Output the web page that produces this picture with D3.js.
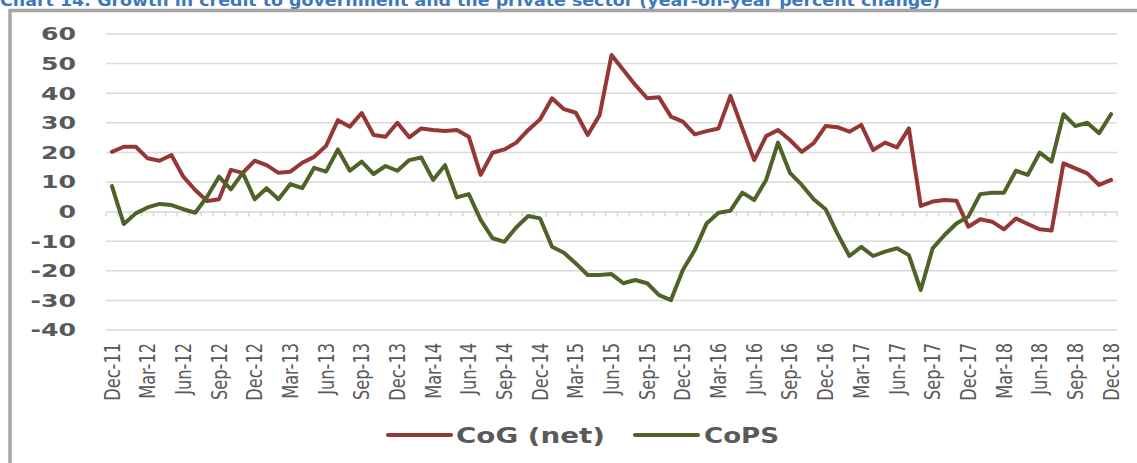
<!DOCTYPE html>
<html>
<head>
<meta charset="utf-8">
<script src="https://cdn.jsdelivr.net/npm/d3@7"></script>
<style>
  body { margin: 0; background: #fff; }
  svg { display: block; }
</style>
</head>
<body>
<svg width="1137" height="463"></svg>
<script>
// monthly, Dec-11 .. Dec-18
const months = d3.timeMonth.range(new Date(2011, 11, 1), new Date(2019, 0, 1));
const categories = months.map(d3.timeFormat("%b-%y"));

const tickLabels = [
  "Dec-11", "Mar-12", "Jun-12", "Sep-12", "Dec-12", "Mar-13", "Jun-13", "Sep-13",
  "Dec-13", "Mar-14", "Jun-14", "Sep-14", "Dec-14", "Mar-15", "Jun-15", "Sep-15",
  "Dec-15", "Mar-16", "Jun-16", "Sep-16", "Dec-16", "Mar-17", "Jun-17", "Sep-17",
  "Dec-17", "Mar-18", "Jun-18", "Sep-18", "Dec-18"
];

const yTicks = [60, 50, 40, 30, 20, 10, 0, -10, -20, -30, -40];

const cog = [
  20.2, 21.9, 21.9, 18.0, 17.2, 19.1, 11.8, 7.3, 3.6, 4.2,
  14.1, 13.1, 17.2, 15.7, 13.1, 13.5, 16.5, 18.5, 22.2, 30.9,
  28.7, 33.3, 25.9, 25.3, 30.0, 25.1, 28.1, 27.6, 27.2, 27.6,
  25.3, 12.4, 19.9, 21.0, 23.3, 27.6, 31.2, 38.3, 34.6, 33.4,
  25.9, 32.6, 52.9, 47.8, 42.8, 38.3, 38.6, 32.1, 30.4, 26.1,
  27.2, 28.1, 39.1, 28.1, 17.4, 25.5, 27.6, 24.2, 20.2, 23.1,
  28.9, 28.5, 27.0, 29.3, 20.8, 23.3, 21.7, 28.1, 1.9, 3.4,
  3.9, 3.7, -5.1, -2.6, -3.4, -6.0, -2.3, -4.2, -6.0, -6.4,
  16.3, 14.6, 12.9, 9.0, 10.7
];

const cops = [
  8.6, -4.2, -0.6, 1.4, 2.6, 2.2, 0.8, -0.4, 5.0, 11.8,
  7.5, 13.1, 4.2, 7.9, 4.2, 9.3, 7.9, 14.8, 13.5, 21.0,
  13.8, 16.9, 12.7, 15.4, 13.8, 17.4, 18.3, 10.7, 15.7, 4.8,
  5.9, -2.8, -9.0, -10.2, -5.3, -1.5, -2.3, -11.9, -13.9, -17.5,
  -21.4, -21.4, -21.1, -24.2, -23.1, -24.2, -28.2, -29.9, -19.7, -13.0,
  -4.0, -0.4, 0.3, 6.4, 3.9, 10.7, 23.3, 13.1, 9.0, 4.2,
  0.8, -7.5, -15.0, -11.9, -15.0, -13.5, -12.4, -14.7, -26.5, -12.4,
  -7.9, -4.0, -1.7, 5.9, 6.4, 6.4, 13.8, 12.4, 19.9, 16.9,
  32.9, 28.9, 30.0, 26.5, 32.9
];

const seriesNames = ["CoG (net)", "CoPS"];
const colors = { "CoG (net)": "#953735", "CoPS": "#4f6228" };

const svg = d3.select("svg");
const grey = "#595959";

let x = d3.scaleBand().domain(categories).range([106, 1117]).padding(0);
let y = d3.scaleLinear().domain([-40, 60]).range([330, 34]);
const cx = (d) => x(d) + x.bandwidth() / 2;

// title (cut off at top in the source)
svg.append("text")
  .attr("x", 0).attr("y", 6)
  .attr("textLength", 940).attr("lengthAdjust", "spacingAndGlyphs")
  .style("font-family", "'Liberation Sans Narrow', 'DejaVu Sans Condensed', sans-serif")
  .style("font-weight", "bold").style("font-size", "16px")
  .style("fill", "#3d78bd")
  .text("Chart 14: Growth in credit to government and the private sector (year-on-year percent change)");

// frame
svg.append("path")
  .attr("d", "M10,463 V10.5 H1137")
  .attr("fill", "none").attr("stroke", "#a5a5a5").attr("stroke-width", 3.5);

// gridlines
svg.append("g").selectAll("line").data(yTicks.filter((d) => d !== 0)).join("line")
  .attr("x1", 106).attr("x2", 1117)
  .attr("y1", (d) => y(d)).attr("y2", (d) => y(d))
  .attr("stroke", "#dadada").attr("stroke-width", 1.5);

// category axis at zero
const xAxis = d3.axisBottom(x).tickValues([]).tickSizeOuter(0);
const gx = svg.append("g").attr("transform", `translate(0,${y(0)})`).call(xAxis);
gx.select(".domain").attr("stroke", "#d6d6d6").attr("stroke-width", 1.5);
const edges = categories.map((d) => x(d)).concat([x.range()[1]]);
gx.selectAll("line.edge").data(edges).join("line").attr("class", "edge")
  .attr("x1", (d) => d).attr("x2", (d) => d)
  .attr("y1", 0).attr("y2", 5)
  .attr("stroke", "#d6d6d6").attr("stroke-width", 1.5);

// y labels
svg.append("g").selectAll("text").data(yTicks).join("text")
  .attr("transform", (d) => `translate(76,${y(d)}) scale(1.4,1)`)
  .attr("dy", "0.36em")
  .attr("text-anchor", "end")
  .style("font-family", "'DejaVu Sans', sans-serif")
  .style("font-weight", "bold").style("font-size", "18px")
  .style("fill", grey)
  .text((d) => d);

// x labels
svg.append("g").selectAll("text").data(tickLabels).join("text")
  .attr("transform", (d) => `translate(${cx(d)},343) scale(1.2,1) rotate(-90)`)
  .attr("dy", "0.35em")
  .attr("text-anchor", "end")
  .style("font-family", "'Liberation Sans Narrow', 'DejaVu Sans Condensed', sans-serif")
  .style("font-size", "18px")
  .style("fill", grey)
  .text((d) => d);

// lines
const line = d3.line()
  .x((d, i) => cx(categories[i]))
  .y((d) => y(d));

[cog, cops].forEach((vals, k) => {
  svg.append("path")
    .datum(vals)
    .attr("d", line)
    .attr("fill", "none")
    .attr("stroke", colors[seriesNames[k]])
    .attr("stroke-width", 4)
    .attr("stroke-linejoin", "round")
    .attr("stroke-linecap", "round");
});

// legend
const legendItems = [
  { name: "CoG (net)", x1: 388, x2: 451, tx: 456, tw: 149 },
  { name: "CoPS", x1: 635, x2: 698, tx: 704, tw: 75 }
];
const lg = svg.append("g");
legendItems.forEach((it) => {
  lg.append("line")
    .attr("x1", it.x1).attr("x2", it.x2).attr("y1", 435).attr("y2", 435)
    .attr("stroke", colors[it.name]).attr("stroke-width", 4)
    .attr("stroke-linecap", "round");
  lg.append("text")
    .attr("x", it.tx).attr("y", 443)
    .attr("textLength", it.tw).attr("lengthAdjust", "spacingAndGlyphs")
    .style("font-family", "'DejaVu Sans', sans-serif")
    .style("font-weight", "bold").style("font-size", "21px")
    .style("fill", grey)
    .text(it.name);
});
</script>
</body>
</html>
